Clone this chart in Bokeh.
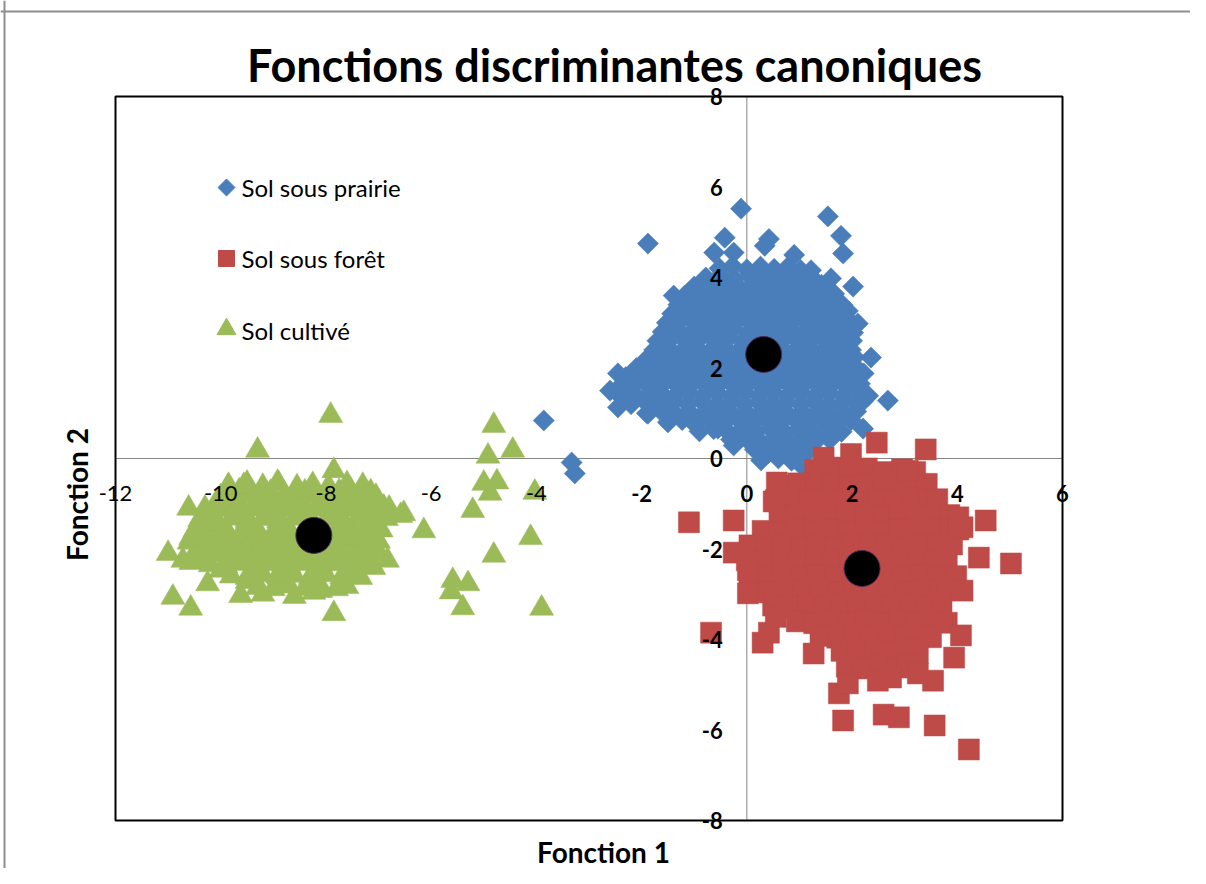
import math
from bokeh.plotting import figure
from bokeh.models import Range1d, Span, Label, LabelSet, ColumnDataSource
from bokeh.core.properties import value
from bokeh.embed import file_html
from bokeh.resources import INLINE

title_text = "Fonctions discriminantes canoniques"
x_title = "Fonction 1"
y_title = "Fonction 2"
series_names = ["Sol sous prairie", "Sol sous forêt", "Sol cultivé"]
x_ticks = [-12, -10, -8, -6, -4, -2, 0, 2, 4, 6]
y_ticks = [-8, -6, -4, -2, 0, 2, 4, 6, 8]
centroid_x = [0.32, 2.19, -8.23]
centroid_y = [2.30, -2.43, -1.70]

prairie = [
    (-0.52,4.2),(-0.27,4.25),(0.0,4.18),(0.26,4.24),(0.52,4.19),(0.78,4.23),(1.02,4.17),
    (-0.78,4.0),(-0.5,4.05),(-0.24,3.98),(0.05,4.03),(0.3,3.99),(0.57,4.04),(0.84,3.98),(1.1,4.03),(1.26,3.97),
    (-1.0,3.8),(-0.73,3.85),(-0.46,3.79),(-0.2,3.84),(0.08,3.8),(0.35,3.85),(0.62,3.79),(0.9,3.83),(1.16,3.78),(1.42,3.84),
    (-1.18,3.6),(-0.92,3.65),(-0.64,3.59),(-0.37,3.64),(-0.1,3.6),(0.18,3.65),(0.45,3.59),(0.72,3.64),(0.98,3.6),(1.25,3.63),(1.52,3.58),(1.66,3.64),
    (-1.3,3.4),(-1.03,3.45),(-0.77,3.39),(-0.5,3.44),(-0.22,3.4),(0.05,3.45),(0.32,3.38),(0.58,3.43),(0.86,3.4),(1.13,3.44),(1.4,3.38),(1.67,3.43),(1.82,3.39),
    (-1.42,3.2),(-1.15,3.25),(-0.88,3.19),(-0.6,3.24),(-0.33,3.2),(-0.06,3.25),(0.2,3.19),(0.47,3.24),(0.74,3.2),(1.0,3.25),(1.28,3.19),(1.55,3.24),(1.8,3.2),(1.92,3.26),
    (-1.52,3.0),(-1.25,3.05),(-0.98,2.99),(-0.7,3.04),(-0.44,3.0),(-0.17,3.05),(0.1,2.98),(0.37,3.03),(0.64,3.0),(0.9,3.05),(1.17,2.99),(1.44,3.04),(1.7,3.0),(1.95,3.04),
    (-1.6,2.8),(-1.33,2.85),(-1.06,2.79),(-0.8,2.84),(-0.53,2.8),(-0.26,2.85),(0.02,2.79),(0.28,2.84),(0.55,2.8),(0.82,2.85),(1.08,2.79),(1.35,2.84),(1.62,2.8),(1.88,2.85),(2.02,2.78),
    (-1.7,2.6),(-1.43,2.65),(-1.16,2.59),(-0.9,2.64),(-0.62,2.6),(-0.35,2.65),(-0.08,2.59),(0.18,2.64),(0.45,2.6),(0.72,2.65),(0.98,2.59),(1.25,2.64),(1.52,2.6),(1.78,2.65),(2.0,2.6),
    (-1.76,2.4),(-1.5,2.45),(-1.22,2.39),(-0.95,2.44),(-0.68,2.4),(-0.42,2.45),(-0.15,2.39),(0.12,2.44),(0.38,2.4),(0.65,2.45),(0.92,2.39),(1.18,2.44),(1.45,2.4),(1.72,2.45),(1.98,2.4),
    (-1.9,2.2),(-1.63,2.25),(-1.36,2.19),(-1.1,2.24),(-0.83,2.2),(-0.56,2.25),(-0.3,2.19),(-0.03,2.24),(0.24,2.2),(0.5,2.25),(0.77,2.19),(1.04,2.24),(1.3,2.2),(1.57,2.25),(1.84,2.19),(2.05,2.24),
    (-2.1,2.0),(-1.83,2.05),(-1.56,1.99),(-1.3,2.04),(-1.02,2.0),(-0.75,2.05),(-0.48,1.99),(-0.22,2.04),(0.05,2.0),(0.32,2.05),(0.58,1.99),(0.85,2.04),(1.12,2.0),(1.38,2.05),(1.65,1.99),(1.92,2.04),(2.1,1.98),
    (-2.3,1.8),(-2.03,1.85),(-1.76,1.79),(-1.5,1.84),(-1.22,1.8),(-0.95,1.85),(-0.68,1.79),(-0.42,1.84),(-0.15,1.8),(0.12,1.85),(0.38,1.79),(0.65,1.84),(0.92,1.8),(1.18,1.85),(1.45,1.79),(1.72,1.84),(1.98,1.8),(2.15,1.85),
    (-2.4,1.6),(-2.13,1.65),(-1.86,1.59),(-1.6,1.64),(-1.32,1.6),(-1.05,1.65),(-0.78,1.59),(-0.52,1.64),(-0.25,1.6),(0.02,1.65),(0.28,1.59),(0.55,1.64),(0.82,1.6),(1.08,1.65),(1.35,1.59),(1.62,1.64),(1.88,1.6),(2.15,1.65),
    (-2.42,1.4),(-2.15,1.45),(-1.88,1.39),(-1.62,1.44),(-1.35,1.4),(-1.08,1.45),(-0.82,1.39),(-0.55,1.44),(-0.28,1.4),(-0.02,1.45),(0.25,1.39),(0.52,1.44),(0.78,1.4),(1.05,1.45),(1.32,1.39),(1.58,1.44),(1.85,1.4),(2.12,1.45),(2.3,1.38),
    (-2.2,1.2),(-1.93,1.25),(-1.66,1.19),(-1.4,1.24),(-1.12,1.2),(-0.85,1.25),(-0.58,1.19),(-0.32,1.24),(-0.05,1.2),(0.22,1.25),(0.48,1.19),(0.75,1.24),(1.02,1.2),(1.28,1.25),(1.55,1.19),(1.82,1.24),(2.08,1.2),(2.2,1.26),
    (-1.9,1.0),(-1.63,1.05),(-1.36,0.99),(-1.1,1.04),(-0.82,1.0),(-0.55,1.05),(-0.28,0.99),(-0.02,1.04),(0.25,1.0),(0.52,1.05),(0.78,0.99),(1.05,1.04),(1.32,1.0),(1.58,1.05),(1.85,0.99),(2.08,1.04),
    (-1.5,0.8),(-1.23,0.85),(-0.96,0.79),(-0.7,0.84),(-0.42,0.8),(-0.15,0.85),(0.12,0.79),(0.38,0.84),(0.65,0.8),(0.92,0.85),(1.18,0.79),(1.45,0.84),(1.72,0.8),(1.98,0.85),
    (-0.9,0.6),(-0.63,0.65),(-0.36,0.59),(-0.1,0.64),(0.18,0.6),(0.45,0.65),(0.72,0.59),(0.98,0.64),(1.25,0.6),(1.52,0.65),(1.8,0.59),
    (-0.3,0.42),(-0.02,0.45),(0.25,0.39),(0.52,0.44),(0.78,0.4),(1.05,0.45),(1.32,0.39),(1.6,0.44),
    (0.15,0.2),(0.42,0.25),(0.7,0.18),(0.98,0.24),(1.2,0.2),
    (-0.11,5.52),(1.54,5.35),(-1.88,4.75),(0.42,4.85),(0.34,4.7),(1.79,4.92),(1.83,4.53),(-0.42,4.88),
    (-0.62,4.55),(-0.25,4.55),(0.9,4.5),(1.22,4.16),(1.6,3.98),(2.02,3.8),(-1.39,3.6),(2.11,2.98),(1.73,3.0),
    (2.36,2.23),(2.22,1.88),(2.68,1.28),(2.3,1.39),(-2.45,1.88),(-2.45,1.13),(-2.6,1.5),(-1.63,2.45),(-1.44,2.78),
    (2.21,0.66),(0.4,0.11),(0.89,0.24),(-0.17,0.46),(-0.55,0.66),(-1.06,0.84),(-1.88,0.99),(1.54,0.46),(1.03,0.02),
    (0.51,0.4),(0.27,-0.04),(-0.25,0.29),(0.85,-0.05),(1.08,-0.2),(0.6,0.0),
    (-3.86,0.84),(-3.33,-0.09),(-3.27,-0.33),
]

foret = [
    (1.3,-0.25),(1.62,-0.2),(1.95,-0.28),(2.28,-0.22),(2.6,-0.3),(2.95,-0.24),(3.2,-0.3),
    (0.65,-0.6),(0.98,-0.55),(1.3,-0.63),(1.62,-0.57),(1.95,-0.62),(2.28,-0.56),(2.6,-0.64),(2.93,-0.58),(3.25,-0.62),(3.42,-0.56),
    (0.55,-0.92),(0.88,-0.96),(1.2,-0.9),(1.52,-0.95),(1.85,-0.9),(2.18,-0.97),(2.5,-0.91),(2.83,-0.95),(3.15,-0.89),(3.48,-0.96),(3.62,-0.9),
    (0.62,-1.25),(0.95,-1.3),(1.27,-1.24),(1.6,-1.29),(1.92,-1.23),(2.25,-1.3),(2.58,-1.25),(2.9,-1.29),(3.23,-1.23),(3.55,-1.3),(3.85,-1.25),(4.02,-1.3),
    (0.3,-1.6),(0.62,-1.64),(0.95,-1.58),(1.28,-1.63),(1.6,-1.57),(1.93,-1.64),(2.25,-1.59),(2.58,-1.63),(2.9,-1.57),(3.23,-1.62),(3.55,-1.58),(3.88,-1.63),(4.02,-1.57),
    (0.05,-1.92),(0.38,-1.97),(0.7,-1.9),(1.03,-1.96),(1.35,-1.91),(1.68,-1.97),(2.0,-1.9),(2.33,-1.95),(2.65,-1.9),(2.98,-1.96),(3.3,-1.91),(3.63,-1.95),(3.9,-1.9),
    (0.0,-2.25),(0.33,-2.3),(0.65,-2.24),(0.98,-2.29),(1.3,-2.23),(1.63,-2.3),(1.95,-2.25),(2.28,-2.29),(2.6,-2.23),(2.93,-2.3),(3.25,-2.24),(3.58,-2.28),(3.8,-2.24),
    (0.05,-2.6),(0.38,-2.64),(0.7,-2.57),(1.03,-2.63),(1.35,-2.58),(1.68,-2.64),(2.0,-2.58),(2.33,-2.63),(2.65,-2.57),(2.98,-2.62),(3.3,-2.58),(3.63,-2.64),(3.98,-2.6),
    (0.1,-2.92),(0.42,-2.96),(0.75,-2.9),(1.08,-2.95),(1.4,-2.9),(1.73,-2.96),(2.05,-2.9),(2.38,-2.95),(2.7,-2.89),(3.03,-2.96),(3.35,-2.91),(3.68,-2.95),(3.82,-2.9),
    (0.5,-3.25),(0.82,-3.3),(1.15,-3.24),(1.47,-3.29),(1.8,-3.23),(2.12,-3.3),(2.45,-3.25),(2.77,-3.29),(3.1,-3.23),(3.42,-3.28),(3.7,-3.24),
    (0.95,-3.6),(1.28,-3.64),(1.6,-3.57),(1.93,-3.63),(2.25,-3.58),(2.58,-3.64),(2.9,-3.58),(3.23,-3.62),(3.55,-3.57),(3.8,-3.63),
    (1.4,-3.92),(1.72,-3.96),(2.05,-3.9),(2.37,-3.95),(2.7,-3.9),(3.02,-3.96),(3.35,-3.9),(3.5,-3.95),
    (1.8,-4.25),(2.12,-4.3),(2.45,-4.24),(2.77,-4.29),(3.1,-4.23),(3.25,-4.3),
    (1.9,-4.6),(2.22,-4.64),(2.55,-4.57),(2.87,-4.62),(3.05,-4.58),
    (1.46,0.02),(1.98,0.1),(2.47,0.35),(3.4,0.2),(0.57,-0.53),(0.51,-0.95),(3.06,-0.27),
    (-1.1,-1.41),(-0.25,-1.37),(-0.25,-2.08),(0.02,-2.47),(0.02,-2.98),(-0.68,-3.85),(0.3,-4.07),(0.42,-3.85),
    (0.55,-3.5),(1.27,-4.31),(1.75,-5.19),(1.92,-4.97),(2.49,-4.91),(2.74,-4.84),(3.54,-4.91),(3.25,-4.75),
    (3.94,-4.4),(4.07,-3.91),(4.1,-2.92),(4.41,-2.19),(5.02,-2.32),(4.54,-1.37),(4.1,-1.52),
    (1.83,-5.79),(2.6,-5.66),(2.89,-5.72),(3.57,-5.9),(4.22,-6.43),
]

cultive = [
    (-9.85,-0.6),(-9.5,-0.55),(-9.2,-0.62),(-8.9,-0.56),(-8.55,-0.63),(-8.25,-0.58),(-7.95,-0.62),(-7.6,-0.56),(-7.3,-0.6),
    (-9.65,-0.72),(-9.05,-0.75),(-8.4,-0.74),(-7.75,-0.73),(-7.15,-0.74),
    (-10.0,-0.85),(-9.7,-0.88),(-9.4,-0.82),(-9.1,-0.87),(-8.8,-0.83),(-8.5,-0.88),(-8.2,-0.82),(-7.9,-0.87),(-7.6,-0.83),(-7.3,-0.88),(-7.05,-0.84),
    (-9.85,-0.97),(-9.25,-0.95),(-8.65,-0.96),(-8.05,-0.95),(-7.45,-0.96),
    (-10.3,-1.1),(-10.0,-1.13),(-9.7,-1.07),(-9.4,-1.12),(-9.1,-1.08),(-8.8,-1.13),(-8.5,-1.07),(-8.2,-1.12),(-7.9,-1.08),(-7.6,-1.13),(-7.3,-1.07),(-7.0,-1.12),
    (-10.15,-1.22),(-9.55,-1.2),(-8.95,-1.21),(-8.35,-1.2),(-7.75,-1.21),(-7.15,-1.2),
    (-10.4,-1.35),(-10.1,-1.38),(-9.8,-1.32),(-9.5,-1.37),(-9.2,-1.33),(-8.9,-1.38),(-8.6,-1.32),(-8.3,-1.37),(-8.0,-1.33),(-7.7,-1.38),(-7.4,-1.32),(-7.1,-1.37),(-6.85,-1.33),
    (-10.05,-1.5),(-9.45,-1.49),(-8.85,-1.5),(-8.25,-1.49),(-7.65,-1.5),(-7.05,-1.49),
    (-10.5,-1.6),(-10.2,-1.63),(-9.9,-1.57),(-9.6,-1.62),(-9.3,-1.58),(-9.0,-1.63),(-8.7,-1.57),(-8.4,-1.62),(-8.1,-1.58),(-7.8,-1.63),(-7.5,-1.57),(-7.2,-1.62),(-6.95,-1.58),
    (-10.45,-1.72),(-9.85,-1.7),(-9.25,-1.71),(-8.65,-1.7),(-8.05,-1.71),(-7.45,-1.7),
    (-10.6,-1.85),(-10.3,-1.88),(-10.0,-1.82),(-9.7,-1.87),(-9.4,-1.83),(-9.1,-1.88),(-8.8,-1.82),(-8.5,-1.87),(-8.2,-1.83),(-7.9,-1.88),(-7.6,-1.82),(-7.3,-1.87),(-7.0,-1.83),
    (-10.15,-2.0),(-9.55,-1.99),(-8.95,-2.0),(-8.35,-1.99),(-7.75,-2.0),(-7.15,-1.99),
    (-10.5,-2.1),(-10.2,-2.13),(-9.9,-2.07),(-9.6,-2.12),(-9.3,-2.08),(-9.0,-2.13),(-8.7,-2.07),(-8.4,-2.12),(-8.1,-2.08),(-7.8,-2.13),(-7.5,-2.07),(-7.2,-2.12),(-7.0,-2.08),
    (-10.35,-2.22),(-9.75,-2.2),(-9.15,-2.21),(-8.55,-2.2),(-7.95,-2.21),(-7.35,-2.2),
    (-10.2,-2.35),(-9.9,-2.38),(-9.6,-2.32),(-9.3,-2.37),(-9.0,-2.33),(-8.7,-2.38),(-8.4,-2.32),(-8.1,-2.37),(-7.8,-2.33),(-7.5,-2.38),(-7.25,-2.32),
    (-10.0,-2.47),(-9.4,-2.45),(-8.8,-2.46),(-8.2,-2.45),(-7.6,-2.46),
    (-9.8,-2.6),(-9.5,-2.63),(-9.2,-2.57),(-8.9,-2.62),(-8.6,-2.58),(-8.3,-2.63),(-8.0,-2.57),(-7.7,-2.62),(-7.4,-2.58),
    (-9.5,-2.72),(-8.9,-2.7),(-8.3,-2.71),(-7.7,-2.7),
    (-9.3,-2.85),(-9.0,-2.88),(-8.7,-2.82),(-8.4,-2.87),(-8.1,-2.83),(-7.8,-2.88),(-7.6,-2.83),
    (-7.91,0.95),(-9.3,0.18),(-7.85,-0.27),(-4.81,0.73),(-4.92,0.05),(-4.45,0.18),(-5.0,-0.55),(-4.75,-0.52),
    (-4.88,-0.77),(-5.21,-1.15),(-4.03,-0.75),(-4.11,-1.75),(-4.81,-2.14),(-5.59,-2.7),(-5.3,-2.77),(-5.62,-2.95),
    (-5.4,-3.3),(-3.9,-3.31),(-6.14,-1.6),(-6.52,-1.22),(-6.8,-1.1),(-6.83,-2.25),(-7.09,-2.41),(-7.34,-2.63),
    (-7.72,-2.81),(-7.85,-3.43),(-8.23,-2.96),(-8.92,-2.59),(-9.62,-3.03),(-10.25,-2.77),(-10.57,-3.31),(-10.91,-3.07),
    (-11.0,-2.1),(-10.72,-2.25),(-10.57,-2.3),(-10.61,-1.1),(-10.25,-1.44),(-10.57,-1.75),(-10.06,-0.93),(-9.87,-0.64),
    (-9.56,-0.6),(-8.92,-0.53),(-8.54,-0.71),(-8.29,-0.66),(-7.53,-0.71),(-7.4,-0.86),(-6.9,-1.08),(-6.58,-1.26),
    (-7.28,-1.59),(-7.47,-1.75),(-8.6,-3.05),(-9.2,-3.0),(-8.1,-2.92),
]

BLUE = "#4A7EBB"
RED = "#BE4B48"
GREEN = "#9BBB59"

# ---- layout (pixels) ----
W, H = 1190, 868
FRAME_L, FRAME_R, FRAME_T, FRAME_B = 115, 1062, 96, 820
x_lo, x_hi = x_ticks[0], x_ticks[-1]
y_lo, y_hi = y_ticks[0], y_ticks[-1]
sx = (x_hi - x_lo) / (FRAME_R - FRAME_L)
sy = (y_hi - y_lo) / (FRAME_B - FRAME_T)


def px_to_x(px):
    return x_lo + (px - FRAME_L) * sx


def py_to_y(py):
    return y_hi - (py - FRAME_T) * sy


p = figure(width=W, height=H, title=None,
           min_border_left=0, min_border_right=0, min_border_top=0, min_border_bottom=0,
           x_range=Range1d(px_to_x(0), px_to_x(W)), y_range=Range1d(py_to_y(H), py_to_y(0)),
           x_axis_type=None, y_axis_type=None,
           toolbar_location=None, output_backend="svg")
p.outline_line_color = None
p.background_fill_color = "white"
p.border_fill_color = "white"

# outer chart-area border (left and top only visible)
p.add_layout(Span(location=4, location_units="screen", dimension="height",
                  line_color="#8E8E8E", line_width=2))
p.add_layout(Span(location=H - 11, location_units="screen", dimension="width",
                  line_color="#8E8E8E", line_width=2))

# plot area box and the axes crossing at zero
p.segment(x0=[x_lo, 0], y0=[0, y_lo], x1=[x_hi, 0], y1=[0, y_hi],
          line_color="#868686", line_width=1)
p.quad(left=[x_lo], right=[x_hi], bottom=[y_lo], top=[y_hi],
       fill_alpha=0, line_color="black", line_width=2)

p.scatter([a for a, b in prairie], [b for a, b in prairie], marker="square",
          angle=math.pi / 4, size=15, fill_color=BLUE, line_color=BLUE, line_width=0.5)
p.scatter([a for a, b in foret], [b for a, b in foret], marker="square",
          size=21, fill_color=RED, line_color=RED, line_width=0.5)
p.scatter([a for a, b in cultive], [b for a, b in cultive], marker="triangle",
          size=24, fill_color=GREEN, line_color=GREEN, line_width=0.5)
p.scatter(centroid_x, centroid_y, marker="circle", size=36,
          fill_color="black", line_color="#4B2C5E", line_width=1)

# legend (drawn by hand so the diamond keeps its orientation)
LEG_MARK_PX = 226
LEG_TEXT_PX = 241
LEG_ROWS_PX = [187, 258, 330]
leg_y = [py_to_y(v) for v in LEG_ROWS_PX]
leg_x = px_to_x(LEG_MARK_PX)
p.scatter([leg_x], [leg_y[0]], marker="square", angle=math.pi / 4, size=12,
          fill_color=BLUE, line_color=BLUE)
p.scatter([leg_x], [leg_y[1]], marker="square", size=16, fill_color=RED, line_color=RED)
p.scatter([leg_x], [leg_y[2] + 0.03], marker="triangle", size=19, fill_color=GREEN, line_color=GREEN)
for name, row in zip(series_names, LEG_ROWS_PX):
    p.add_layout(Label(x=LEG_TEXT_PX, y=H - row, x_units="screen", y_units="screen", text=name,
                       text_align="left", text_baseline="middle", text_font="Lato",
                       text_font_size="24px", text_color="black"))

# tick labels along the axes that cross at zero
xl_norm = [t for t in x_ticks if t < -3]
xl_bold = [t for t in x_ticks if t >= -3]
src_xn = ColumnDataSource(dict(x=xl_norm, y=[0] * len(xl_norm), t=[str(t) for t in xl_norm]))
src_xb = ColumnDataSource(dict(x=xl_bold, y=[0] * len(xl_bold), t=[str(t) for t in xl_bold]))
src_y = ColumnDataSource(dict(x=[0] * len(y_ticks), y=y_ticks, t=[str(t) for t in y_ticks]))

p.add_layout(LabelSet(x="x", y="y", text="t", source=src_xn, y_offset=-35,
                      text_align="center", text_baseline="middle",
                      text_font=value("Lato"), text_font_size="22px", text_color="black"))
p.add_layout(LabelSet(x="x", y="y", text="t", source=src_xb, y_offset=-35,
                      text_align="center", text_baseline="middle",
                      text_font=value("Lato"), text_font_style=value("bold"),
                      text_font_size="22px", text_color="black"))
p.add_layout(LabelSet(x="x", y="y", text="t", source=src_y, x_offset=-24,
                      text_align="right", text_baseline="middle",
                      text_font=value("Lato"), text_font_style=value("bold"),
                      text_font_size="22px", text_color="black"))

# titles
p.add_layout(Label(x=614, y=H - 64, x_units="screen", y_units="screen", text=title_text,
                   text_align="center", text_baseline="middle", text_font="Lato",
                   text_font_style="bold", text_font_size="45px", text_color="black"))
p.add_layout(Label(x=603, y=H - 851, x_units="screen", y_units="screen", text=x_title,
                   text_align="center", text_baseline="middle", text_font="Lato",
                   text_font_style="bold", text_font_size="28px", text_color="black"))
p.add_layout(Label(x=76, y=H - 494, x_units="screen", y_units="screen", text=y_title,
                   angle=math.pi / 2, text_align="center", text_baseline="middle", text_font="Lato",
                   text_font_style="bold", text_font_size="28px", text_color="black"))

open("out.html", "w").write(file_html(p, INLINE))
